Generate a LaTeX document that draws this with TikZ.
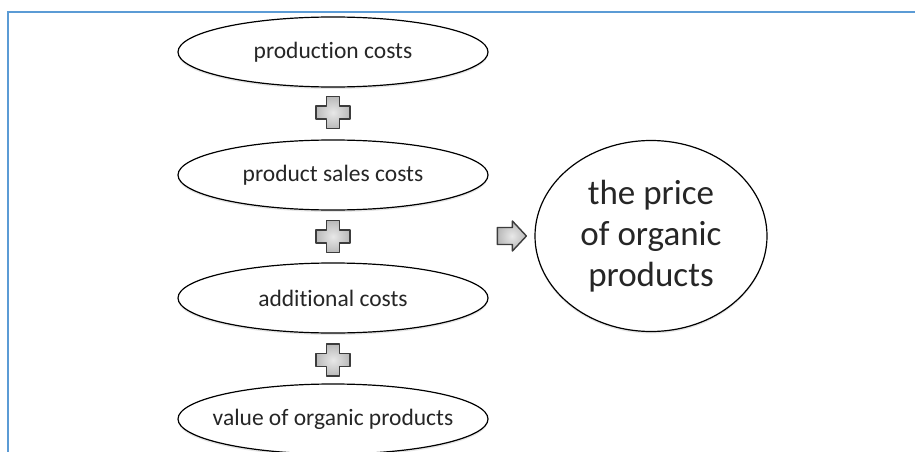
\documentclass[tikz,border=0pt]{standalone}
\usepackage{fontspec}
\setmainfont{Carlito}[Ligatures={NoCommon}]
\usetikzlibrary{shapes.geometric,shadows}
\definecolor{frameblue}{RGB}{91,155,213}
\definecolor{symedge}{RGB}{60,60,60}
\tikzset{
    cost/.style={ellipse,draw,line width=1.2pt,fill=white,inner ysep=0pt,inner xsep=-60pt,
        minimum width=310pt,minimum height=70pt,text=black!85,
        font=\fontsize{23.5}{28}\selectfont,
        drop shadow={shadow xshift=0pt,shadow yshift=-2pt,opacity=0.2}},
    bigcost/.style={cost,minimum width=232pt,minimum height=191pt,align=center,
        font=\fontsize{35}{41}\selectfont},
    symbol/.style={draw=symedge,line width=1.4pt,line join=round,
        inner color=gray!18,outer color=gray!55},
    plussym/.pic={
        \draw[symbol] (-6.5,-16) -- (6.5,-16) -- (6.5,-6.5) -- (17,-6.5) -- (17,6.5)
            -- (6.5,6.5) -- (6.5,16) -- (-6.5,16) -- (-6.5,6.5) -- (-17,6.5)
            -- (-17,-6.5) -- (-6.5,-6.5) -- cycle;
    },
    arrowsym/.pic={
        \draw[symbol] (-29,-8.5) -- (-14,-8.5) -- (-14,-15) -- (0,0) -- (-14,15)
            -- (-14,8.5) -- (-29,8.5) -- cycle;
    }
}
\begin{document}
\begin{tikzpicture}[x=1pt,y=-1pt]
    \useasboundingbox (0,0) rectangle (915,452);
    \draw[frameblue,line width=2pt] (8,460) -- (8,12) -- (920,12);

    \node[cost] (prod) at (333,52) {production costs};
    \node[cost] (sales) at (333,175) {product sales costs};
    \node[cost] (extra) at (333,298) {additional costs};
    \node[cost] (value) at (333,419) {value of organic products};
    \node[bigcost] (price) at (651,236) {the price\\of organic\\products};

    \path (prod) -- (sales) coordinate[pos=0.48] (p1);
    \path (sales) -- (extra) coordinate[pos=0.5] (p2);
    \path (extra) -- (value) coordinate[pos=0.53] (p3);
    \pic at (p1) {plussym};
    \pic at (p2) {plussym};
    \pic at (p3) {plussym};
    \pic at ([xshift=-8pt]price.west) {arrowsym};
\end{tikzpicture}
\end{document}
